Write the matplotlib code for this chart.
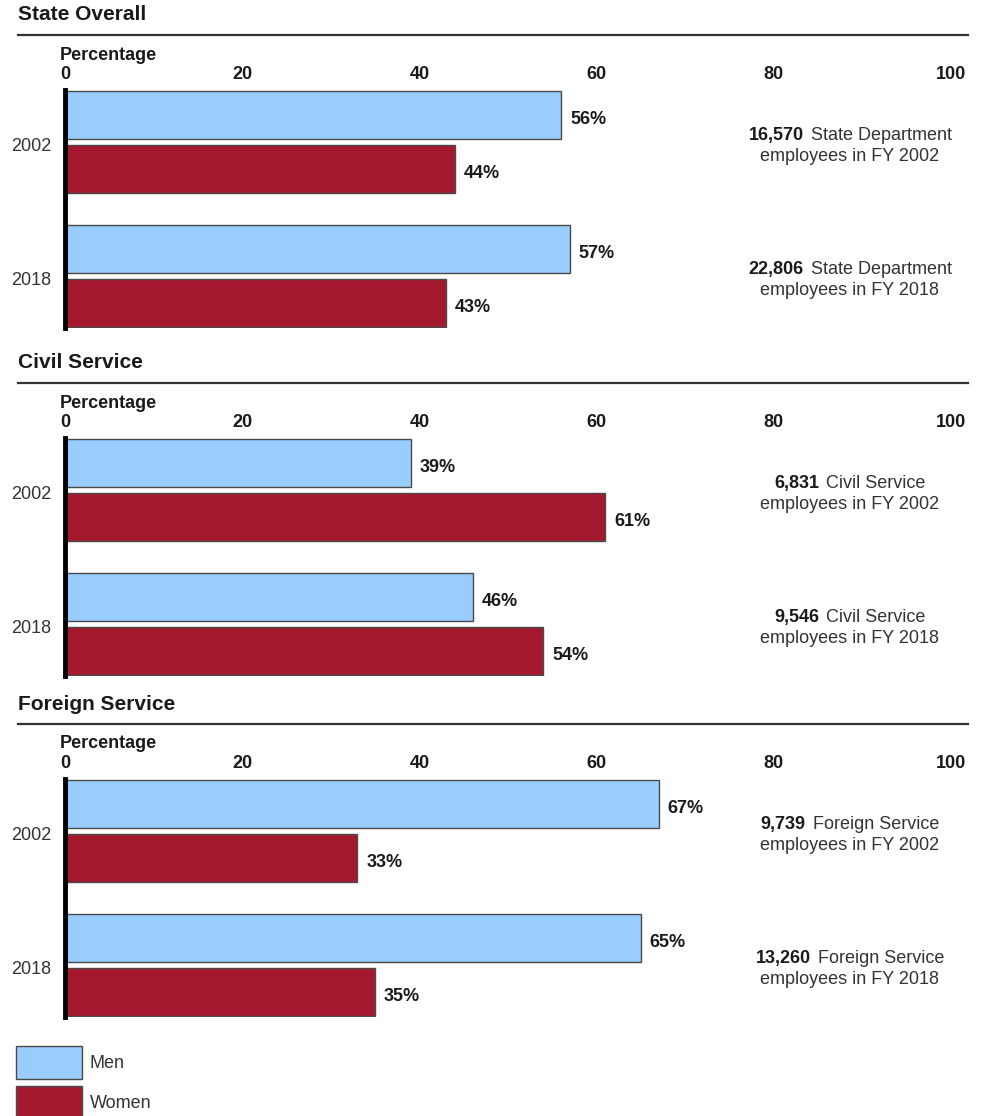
import matplotlib
matplotlib.use('Agg')
import matplotlib.pyplot as plt
from matplotlib.patches import Patch
from matplotlib.lines import Line2D
from matplotlib.offsetbox import TextArea, HPacker, VPacker, AnnotationBbox

plt.rcParams['font.family'] = ['Liberation Sans', 'DejaVu Sans']

# ---- data ----
panels = ["State Overall", "Civil Service", "Foreign Service"]
years = ["2002", "2018"]
men = [[56, 57], [39, 46], [67, 65]]
women = [[44, 43], [61, 54], [33, 35]]
totals = [["16,570", "22,806"], ["6,831", "9,546"], ["9,739", "13,260"]]
groups = ["State Department", "Civil Service", "Foreign Service"]
xticks = [0, 20, 40, 60, 80, 100]
legend_labels = ["Men", "Women"]

# ---- style ----
BLUE = '#99CCFF'
RED = '#A5192F'
EDGE = '#4a4a4a'
TXT = '#1a1a1a'
TXT2 = '#333333'
FS = 13

W, H = 988, 1116
fig = plt.figure(figsize=(W / 100, H / 100), dpi=100)


def fx(px):
    return px / W


def fy(py):
    return 1 - py / H


tops = [90, 438, 779]
ax_h = 238
x0, x1 = 65, 951
spacing = 134.0
margin = (ax_h - spacing) / 2 / spacing
off = 27 / spacing
bh = 48 / spacing

for p, T in enumerate(tops):
    ax = fig.add_axes([fx(x0), fy(T + ax_h), fx(x1) - fx(x0), ax_h / H])
    ys = list(range(len(years)))
    ax.barh([y - off for y in ys], men[p], height=bh, color=BLUE,
            edgecolor=EDGE, linewidth=1)
    ax.barh([y + off for y in ys], women[p], height=bh, color=RED,
            edgecolor=EDGE, linewidth=1)
    for y, v in zip(ys, men[p]):
        ax.text(v + 1.0, y - off + 0.03, f"{v}%", fontsize=FS,
                fontweight='bold', va='center', ha='left', color=TXT)
    for y, v in zip(ys, women[p]):
        ax.text(v + 1.0, y + off + 0.03, f"{v}%", fontsize=FS,
                fontweight='bold', va='center', ha='left', color=TXT)
    ax.set_xlim(0, 100)
    ax.set_ylim(len(years) - 1 + margin, -margin)
    ax.xaxis.tick_top()
    ax.set_xticks(xticks)
    ax.set_xticklabels([str(t) for t in xticks], fontweight='bold',
                       fontsize=FS, color=TXT)
    ax.tick_params(axis='x', length=0, pad=5)
    ax.set_yticks([y + 0.02 for y in ys])
    ax.set_yticklabels(years, fontsize=FS, color=TXT2)
    ax.tick_params(axis='y', length=0, pad=10)
    for s in ['top', 'right', 'bottom']:
        ax.spines[s].set_visible(False)
    ax.spines['left'].set_linewidth(3.5)
    ax.spines['left'].set_color('black')

    for y in ys:
        line1 = HPacker(children=[
            TextArea(totals[p][y], textprops=dict(fontsize=FS, fontweight='bold', color=TXT)),
            TextArea(groups[p], textprops=dict(fontsize=FS, color=TXT2))],
            align='baseline', pad=0, sep=5)
        line2 = TextArea(f"employees in FY {years[y]}",
                         textprops=dict(fontsize=FS, color=TXT2))
        box = VPacker(children=[line1, line2], align='center', pad=0, sep=3)
        ab = AnnotationBbox(box, (88.6, y + 0.03), xycoords='data', frameon=False,
                            box_alignment=(0.5, 0.5))
        ax.add_artist(ab)

    fig.text(fx(18), fy(T - 75), panels[p], fontsize=15, fontweight='bold',
             va='center', ha='left', color=TXT)
    fig.add_artist(Line2D([fx(18), fx(968)], [fy(T - 55)] * 2, color='#333333', lw=1.6))
    fig.text(fx(60), fy(T - 35), "Percentage", fontsize=FS, fontweight='bold',
             va='center', ha='left', color=TXT)

handles = [Patch(facecolor=BLUE, edgecolor=EDGE), Patch(facecolor=RED, edgecolor=EDGE)]
fig.legend(handles=handles, labels=legend_labels, loc='upper left',
           bbox_to_anchor=(fx(16), fy(1046)), frameon=False, handlelength=3.65,
           handleheight=2.43, handletextpad=0.44, labelspacing=0.38, borderpad=0,
           borderaxespad=0, fontsize=FS, labelcolor=TXT2)

fig.savefig('out.png', dpi=100)
